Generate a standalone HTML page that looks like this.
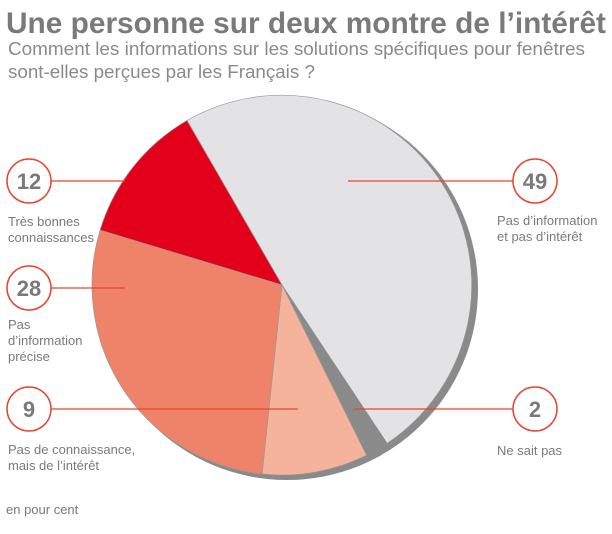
<!DOCTYPE html>
<html><head><meta charset="utf-8"><style>
body{margin:0;background:#fff;width:612px;height:529px;overflow:hidden;font-family:"Liberation Sans",sans-serif;}
</style></head><body>
<svg width="612" height="529" viewBox="0 0 612 529" xmlns="http://www.w3.org/2000/svg" font-family="Liberation Sans, sans-serif">
<text x="6" y="33" font-size="30" font-weight="bold" fill="#7a7a7a" textLength="600" lengthAdjust="spacingAndGlyphs">Une personne sur deux montre de l’intérêt</text>
<text x="8" y="55" font-size="18.8" fill="#8a8a8a" textLength="577" lengthAdjust="spacingAndGlyphs">Comment les informations sur les solutions spécifiques pour fenêtres</text>
<text x="8" y="78" font-size="18.8" fill="#8a8a8a">sont-elles perçues par les Français ?</text>
<g transform="translate(282,285)">
<circle cx="5" cy="4" r="191" fill="#8a8a8a"/>
<path d="M0,0 L-95,-164.5 A190,190 0 0,1 105.1,158.3 Z" fill="#e3e3e5" stroke="#999" stroke-width="0.7"/>
<path d="M0,0 L105.1,158.3 A190,190 0 0,1 84.5,170.2 Z" fill="#8a8a8a"/>
<path d="M0,0 L84.5,170.2 A190,190 0 0,1 -19.9,189 Z" fill="#f5b39b" stroke="#999" stroke-width="0.7"/>
<path d="M0,0 L-19.9,189 A190,190 0 0,1 -181.9,-54.9 Z" fill="#ee836a" stroke="#999" stroke-width="0.7"/>
<path d="M0,0 L-181.9,-54.9 A190,190 0 0,1 -95,-164.5 Z" fill="#e2001a" stroke="#999" stroke-width="0.7"/>
</g>
<g stroke="#e8452c" stroke-width="1.3">
<line x1="51" y1="181" x2="125" y2="181"/>
<line x1="51" y1="288" x2="125" y2="288"/>
<line x1="51" y1="409" x2="298" y2="409"/>
<line x1="348" y1="181" x2="513" y2="181"/>
<line x1="354" y1="409" x2="513" y2="409"/>
</g>
<g fill="#fff" stroke="#e8452c" stroke-width="1.5">
<circle cx="29" cy="181" r="22"/><circle cx="29" cy="288" r="22"/><circle cx="29" cy="409" r="22"/>
<circle cx="535" cy="181" r="22"/><circle cx="535" cy="409" r="22"/>
</g>
<g font-size="22" font-weight="bold" fill="#7a7a7a" text-anchor="middle">
<text x="29" y="189">12</text><text x="29" y="296">28</text><text x="29" y="417">9</text>
<text x="535" y="189">49</text><text x="535" y="417">2</text>
</g>
<g font-size="13" fill="#7a7a7a">
<text x="8" y="226">Très bonnes</text><text x="8" y="242">connaissances</text>
<text x="8" y="329">Pas</text><text x="8" y="345">d’information</text><text x="8" y="361">précise</text>
<text x="8" y="454">Pas de connaissance,</text><text x="8" y="470">mais de l’intérêt</text>
<text x="497" y="225">Pas d’information</text><text x="497" y="241">et pas d’intérêt</text>
<text x="497" y="455">Ne sait pas</text>
<text x="6" y="514">en pour cent</text>
</g>
</svg>
</body></html>
